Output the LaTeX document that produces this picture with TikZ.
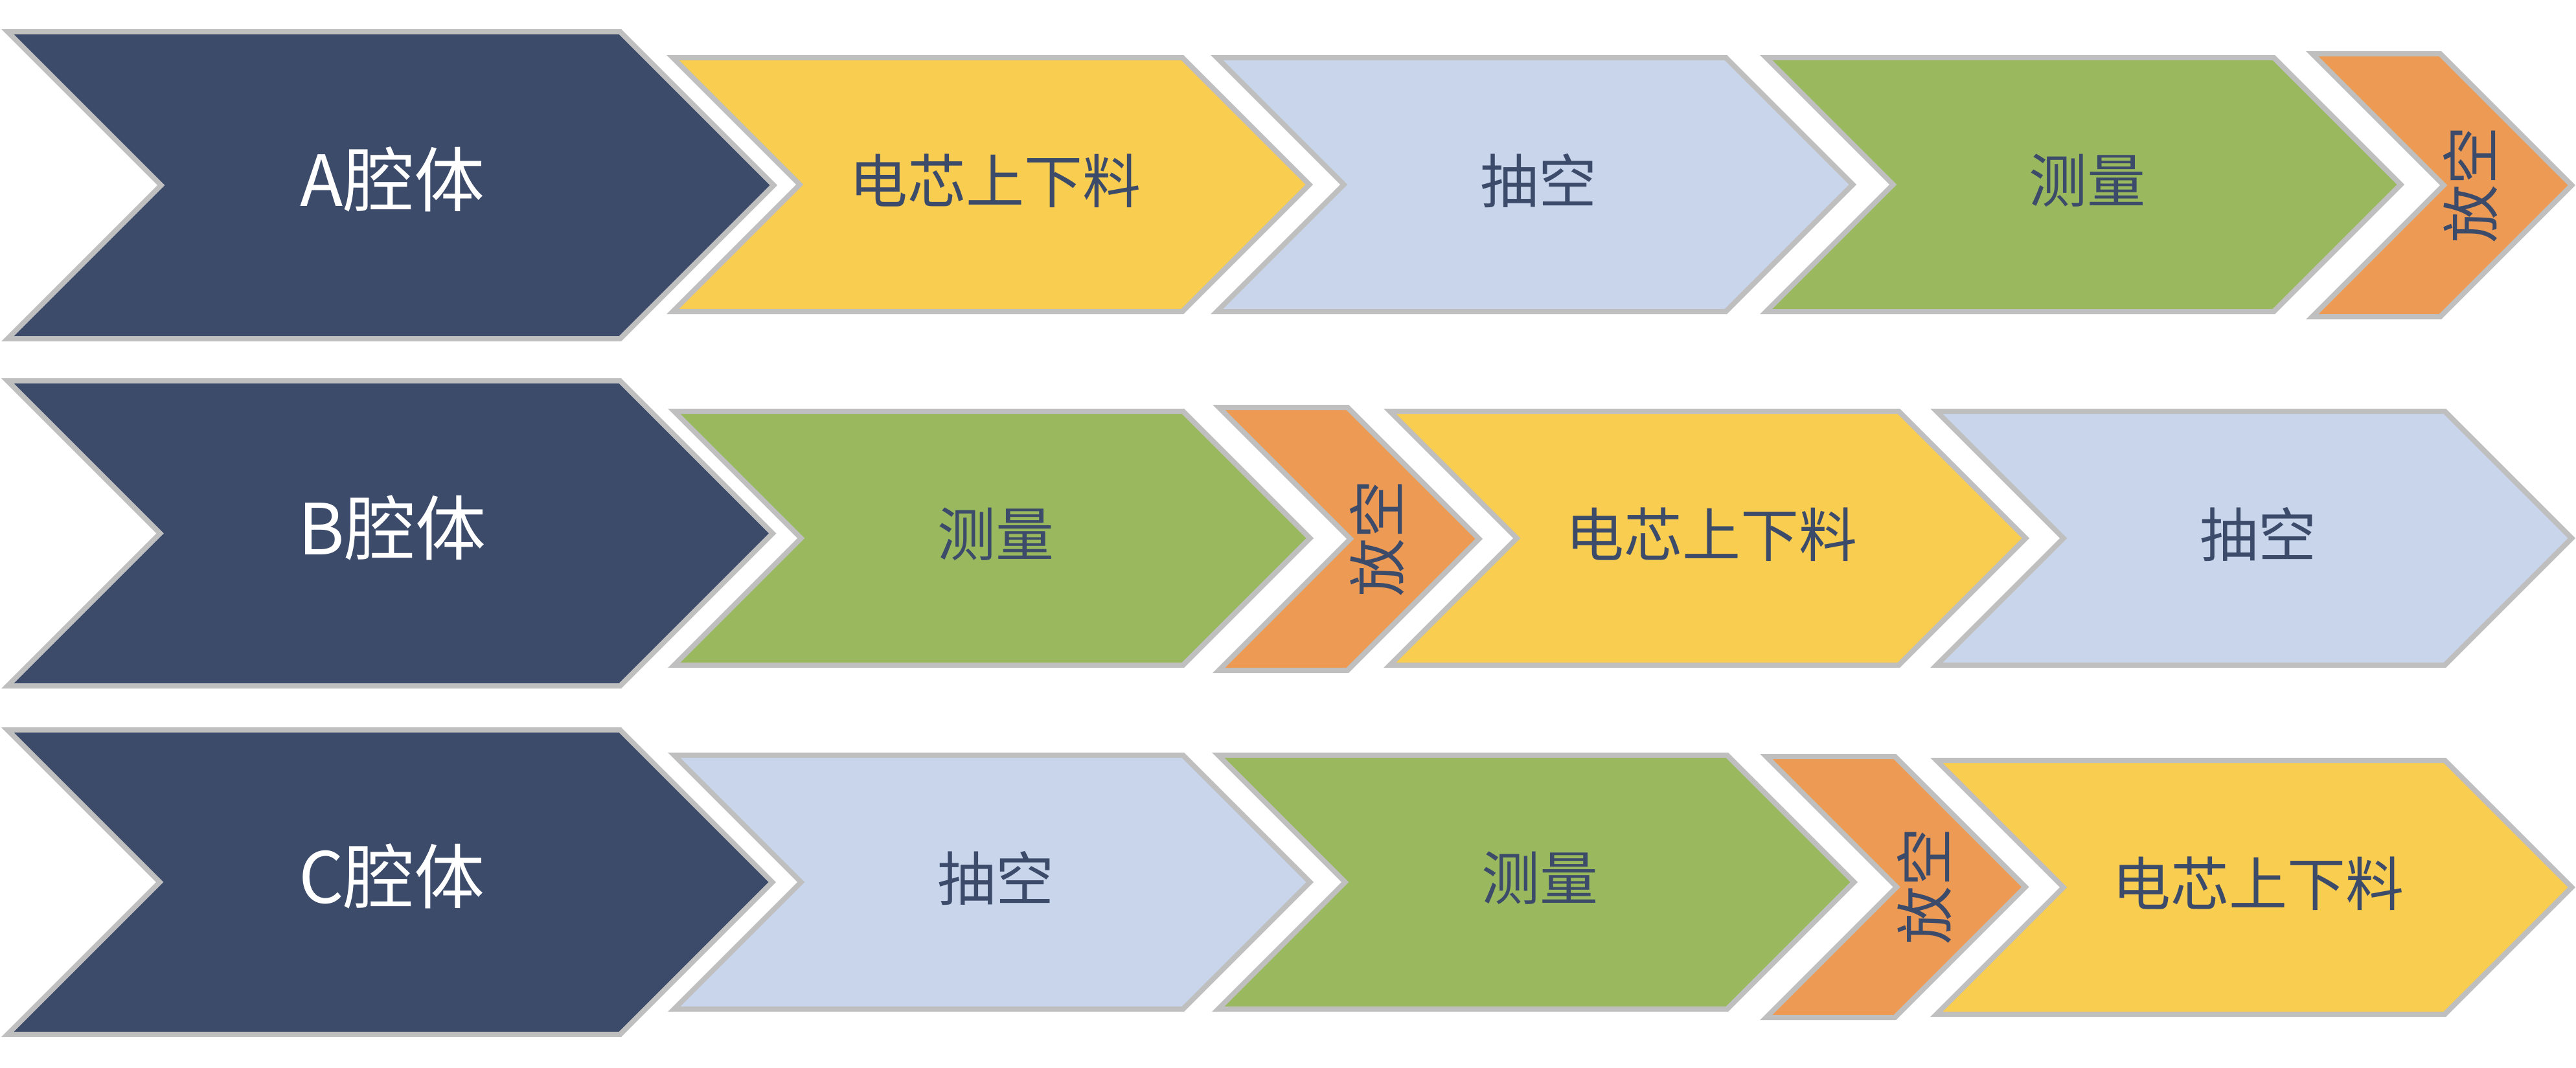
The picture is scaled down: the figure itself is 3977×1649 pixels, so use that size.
\documentclass[tikz,border=0pt]{standalone}
\usepackage{fontspec}
\setmainfont{Noto Sans CJK SC}
\definecolor{navy}{HTML}{3D4B6B}
\definecolor{gold}{HTML}{F9CD50}
\definecolor{pale}{HTML}{C8D5EB}
\definecolor{leaf}{HTML}{9AB95E}
\definecolor{amber}{HTML}{EC9A54}
\definecolor{rim}{HTML}{BFBFBF}
\tikzset{
  chevbox/.style={draw=rim, line width=2pt, line join=miter},
  headlabel/.style={text=white, inner sep=0pt, font=\fontsize{27.25}{30}\selectfont, xshift=1.25pt, yshift=2.25pt},
  steplabel/.style={text=navy, inner sep=0pt, font=\fontsize{22.5}{26}\selectfont, xshift=2pt, yshift=1.5pt},
  narrowlabel/.style={text=navy, inner sep=0pt, font=\fontsize{22.5}{26}\selectfont, rotate=90, xshift=0.25pt, yshift=-11.5pt},
}
% #1 name, #2 left x, #3 top y, #4 bottom y, #5 body width, #6 fill, #7 label style, #8 text
\newcommand\chev[8]{%
  \pgfmathsetmacro\chh{(#4-#3)/2}%
  \pgfmathsetmacro\chc{(#4+#3)/2}%
  \draw[chevbox,fill=#6] ({#2+9.66},{#3+4}) -- ({#2+#5-1.66},{#3+4})
     -- ({#2+#5+\chh-5.66},\chc) -- ({#2+#5-1.66},{#4-4})
     -- ({#2+9.66},{#4-4}) -- ({#2+\chh+5.66},\chc) -- cycle;
  \node[#7] (#1) at ({#2+(#5+\chh)/2},\chc) {#8};
}
\begin{document}
\begin{tikzpicture}[x=0.25pt,y=-0.25pt]
\useasboundingbox (0,0) rectangle (3977,1649);
% Row A
\chev{A0}{2}{45}{527}{957}{navy}{headlabel}{A腔体}
\chev{A1}{1029}{85}{485}{798}{gold}{steplabel}{电芯上下料}
\chev{A2}{1869}{85}{485}{797}{pale}{steplabel}{抽空}
\chev{A3}{2717}{85}{485}{795}{leaf}{steplabel}{测量}
\chev{A4}{3560}{79}{493}{209}{amber}{narrowlabel}{放空}
% Row B
\chev{B0}{2}{584}{1063}{957}{navy}{headlabel}{B腔体}
\chev{B1}{1031}{631}{1031}{797}{leaf}{steplabel}{测量}
\chev{B2}{1872}{625}{1039}{210}{amber}{narrowlabel}{放空}
\chev{B3}{2136}{631}{1031}{797}{gold}{steplabel}{电芯上下料}
\chev{B4}{2980}{631}{1031}{796}{pale}{steplabel}{抽空}
% Row C
\chev{C0}{2}{1123}{1601}{957}{navy}{headlabel}{C腔体}
\chev{C1}{1031}{1162}{1562}{797}{pale}{steplabel}{抽空}
\chev{C2}{1871}{1162}{1562}{797}{leaf}{steplabel}{测量}
\chev{C3}{2717}{1164}{1575}{210}{amber}{narrowlabel}{放空}
\chev{C4}{2980}{1170}{1570}{796}{gold}{steplabel}{电芯上下料}
\end{tikzpicture}
\end{document}
